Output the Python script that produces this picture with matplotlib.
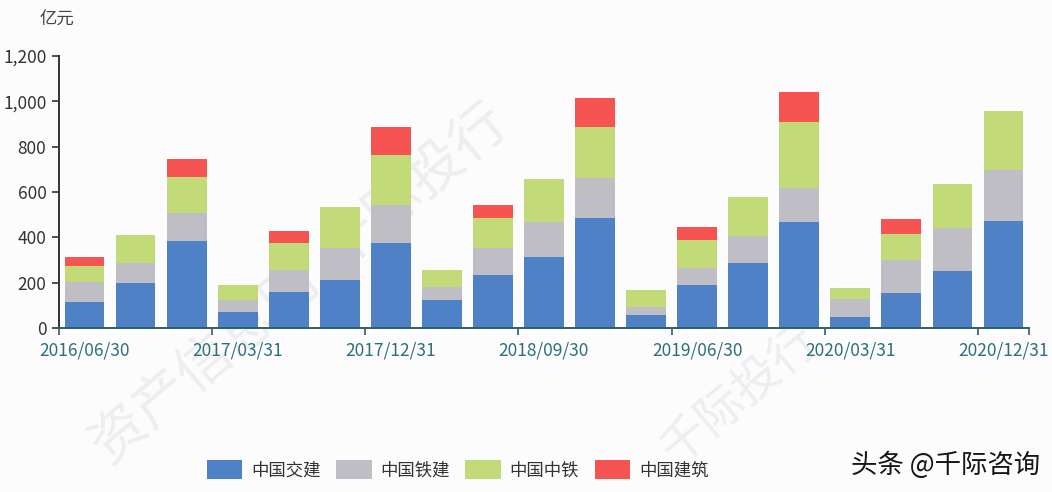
import matplotlib
matplotlib.use('Agg')
from matplotlib import pyplot as plt
import numpy as np

# Data (亿元)
dates = ['2016/06/30', '2016/09/30', '2016/12/31', '2017/03/31', '2017/06/30',
         '2017/09/30', '2017/12/31', '2018/03/31', '2018/06/30', '2018/09/30',
         '2018/12/31', '2019/03/31', '2019/06/30', '2019/09/30', '2019/12/31',
         '2020/03/31', '2020/06/30', '2020/09/30', '2020/12/31']
cccc = [115, 197, 382, 71, 159, 212, 374, 124, 235, 315, 487, 56, 191, 287, 469, 50, 154, 253, 472]
crcc = [89, 91, 124, 54, 96, 141, 167, 58, 119, 154, 175, 38, 75, 118, 149, 78, 145, 188, 225]
crec = [71, 121, 160, 65, 120, 181, 221, 73, 130, 188, 225, 75, 122, 172, 289, 48, 116, 196, 259]
cscec = [38, 0, 79, 0, 53, 0, 126, 0, 59, 0, 126, 0, 58, 0, 133, 0, 67, 0, 0]

series_names = ['中国交建', '中国铁建', '中国中铁', '中国建筑']
series_colors = ['#4f81c6', '#bfbec4', '#c2da78', '#f65353']
y_ticks = [0, 200, 400, 600, 800, 1000, 1200]
y_ticklabels = ['0', '200', '400', '600', '800', '1,000', '1,200']

plt.rcParams['font.family'] = ['Noto Sans CJK SC', 'DejaVu Sans']

fig = plt.figure(figsize=(10.52, 4.92), dpi=100)
fig.patch.set_facecolor('#fcfcfd')

# faint watermark behind everything
fig.text(300 / 1052, 1 - 285 / 492, '资产信息网  千际投行', rotation=40, ha='center', va='center',
         fontsize=40, color='#eeeef1', zorder=-5)
fig.text(740 / 1052, 1 - 395 / 492, '千际投行', rotation=40, ha='center', va='center',
         fontsize=34, color='#eeeef1', zorder=-5)

ax = fig.add_axes([59 / 1052, 1 - 328 / 492, 970 / 1052, 272 / 492])
ax.set_facecolor('none')
ax.set_zorder(1)

x = np.arange(len(dates))
bottom = np.zeros(len(dates))
bars = []
for vals, name, col in zip([cccc, crcc, crec, cscec], series_names, series_colors):
    b = ax.bar(x, vals, width=0.78, bottom=bottom, color=col, label=name, zorder=2)
    bars.append(b)
    bottom = bottom + np.array(vals)

ax.set_xlim(-0.5, len(dates) - 0.5)
ax.set_ylim(0, 1200)

# y axis
ax.set_yticks(y_ticks)
ax.set_yticklabels(y_ticklabels)
ax.tick_params(axis='y', direction='out', length=5, width=1.2, color='#333333',
               labelcolor='#333333', labelsize=12.5, pad=4)

# x axis: tick marks at category boundaries every 3, labels at centers
bounds = list(np.arange(-0.5, len(dates) - 0.5, 3)) + [len(dates) - 0.5]
ax.set_xticks(bounds)
ax.set_xticklabels([''] * len(bounds))
ax.tick_params(axis='x', which='major', direction='out', length=5, width=1.2, color='#2f5f6a')
ax.set_xticks(x[::3], minor=True)
ax.set_xticklabels(dates[::3], minor=True)
ax.tick_params(axis='x', which='minor', length=0, labelsize=12.5, labelcolor='#2d6f7c', pad=10)

for s in ['top', 'right']:
    ax.spines[s].set_visible(False)
ax.spines['left'].set_color('#333333')
ax.spines['left'].set_linewidth(1.4)
ax.spines['bottom'].set_color('#2f5f6a')
ax.spines['bottom'].set_linewidth(1.4)

fig.text(57 / 1052, 1 - 20 / 492, '亿元', ha='center', va='center', fontsize=12.5, color='#444444')

fig.legend(handles=[b[0] for b in bars], labels=series_names, loc='center',
           bbox_to_anchor=(0.435, 1 - 470 / 492), ncol=4, frameon=False,
           fontsize=12.5, handlelength=2.05, handleheight=1.25, handletextpad=0.5,
           columnspacing=0.9, labelcolor='#333333')

fig.text(1040 / 1052, 1 - 465 / 492, '头条 @千际咨询', ha='right', va='center',
         fontsize=19, color='#151515')

fig.savefig('out.png', dpi=100, facecolor=fig.get_facecolor())
